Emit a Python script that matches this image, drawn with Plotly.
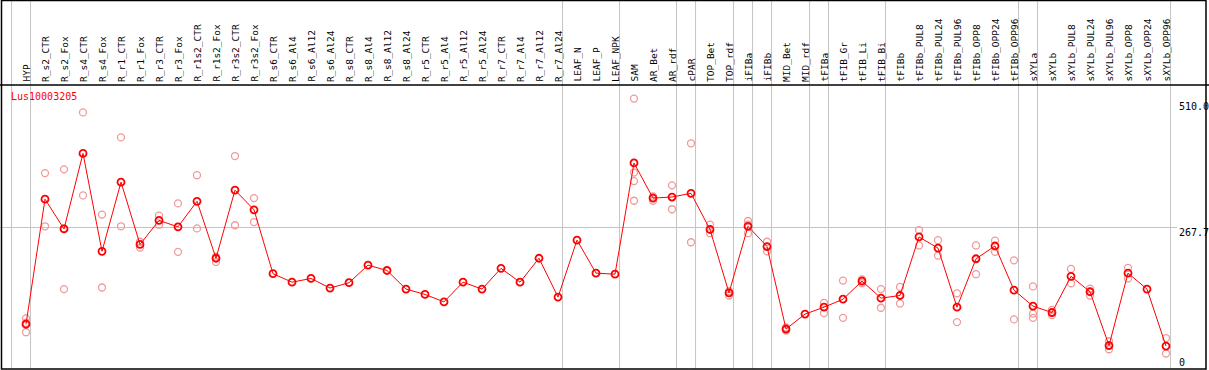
import plotly.graph_objects as go

title = "Lus10003205"
categories = [
    "HYP", "R_s2_CTR", "R_s2_Fox", "R_s4_CTR", "R_s4_Fox", "R_r1_CTR", "R_r1_Fox",
    "R_r3_CTR", "R_r3_Fox", "R_r1s2_CTR", "R_r1s2_Fox", "R_r3s2_CTR", "R_r3s2_Fox",
    "R_s6_CTR", "R_s6_Al4", "R_s6_Al12", "R_s6_Al24", "R_s8_CTR", "R_s8_Al4",
    "R_s8_Al12", "R_s8_Al24", "R_r5_CTR", "R_r5_Al4", "R_r5_Al12", "R_r5_Al24",
    "R_r7_CTR", "R_r7_Al4", "R_r7_Al12", "R_r7_Al24", "LEAF_N", "LEAF_P", "LEAF_NPK",
    "SAM", "AR_Bet", "AR_rdf", "cPAR", "TOP_Bet", "TOP_rdf", "iFIBa", "iFIBb",
    "MID_Bet", "MID_rdf", "tFIBa", "tFIB_Gr", "tFIB_Li", "tFIB_Bi", "tFIBb",
    "tFIBb_PUL8", "tFIBb_PUL24", "tFIBb_PUL96", "tFIBb_OPP8", "tFIBb_OPP24",
    "tFIBb_OPP96", "sXYLa", "sXYLb", "sXYLb_PUL8", "sXYLb_PUL24", "sXYLb_PUL96",
    "sXYLb_OPP8", "sXYLb_OPP24", "sXYLb_OPP96",
]
means = [
    86, 321, 265, 407, 223, 353, 236, 281, 269, 317, 210, 338, 301,
    181, 165, 172, 154, 164, 197, 187, 152, 142, 128, 165, 152, 191, 165, 210, 137,
    244, 182, 180,
    389, 323, 325, 332, 264, 145, 270, 232, 77, 105, 118, 133, 167, 135, 140,
    250, 229, 118, 209, 233, 150, 120, 108, 176, 147, 46, 182, 152, 45,
]
replicates = [
    [97, 89, 71], [370, 270], [377, 266, 152], [484, 328], [292, 155], [437, 270],
    [241, 230], [290, 273], [313, 222], [366, 266], [213, 203], [402, 272], [323, 278],
    [], [], [], [], [], [], [], [], [], [], [], [], [], [], [], [], [], [], [],
    [510, 371, 355, 318], [326, 318], [347, 302], [426, 240], [273, 257], [148, 140],
    [280, 273, 257], [241, 223], [80, 74], [], [126, 107], [168, 98], [170, 163],
    [152, 117], [156, 125], [263, 234], [244, 215], [144, 90], [234, 180], [243, 222],
    [206, 95], [157, 106, 98], [113, 103], [190, 163], [153, 140], [54, 39],
    [192, 172], [], [60, 31],
]
# indices of the last category of each group (group separators drawn after them)
group_ends = [-1, 0, 28, 31, 34, 35, 37, 38, 39, 41, 42, 45, 52, 53, 60]
y_max = 510.0
y_tick_vals = [510.0, 267.7, 0]
y_tick_text = ["510.0", "267.7", "0"]

assert len(categories) == len(means) == len(replicates)

W, H = 1209, 370
x0_px, dx_px = 26, 19
plot_top_px = 85
y_top = y_max * 1.05
y_full = y_top * H / (H - plot_top_px)
x_lo = -x0_px / dx_px
x_hi = (W - x0_px) / dx_px

idx = list(range(len(categories)))
rx, ry = [], []
for i, reps in enumerate(replicates):
    for v in reps:
        rx.append(i)
        ry.append(v)

fig = go.Figure()
fig.add_trace(go.Scatter(
    x=rx, y=ry, mode="markers",
    marker=dict(symbol="circle-open", size=7, color="#f09a9a", line=dict(width=1.3)),
    hoverinfo="skip", showlegend=False,
))
fig.add_trace(go.Scatter(
    x=idx, y=means, mode="lines+markers",
    line=dict(color="#ff0000", width=1),
    marker=dict(symbol="circle-open", size=7, color="#ff0000", line=dict(width=1.8)),
    showlegend=False,
))

shapes = []
gray = "#c4c4c4"
for g in group_ends:
    shapes.append(dict(type="line", xref="x", yref="paper", x0=g + 0.24, x1=g + 0.24,
                       y0=1 / H, y1=1, line=dict(color=gray, width=1), layer="below"))
shapes.append(dict(type="line", xref="x", yref="y", x0=x_lo, x1=(1177 - x0_px) / dx_px,
                   y0=y_top / 2, y1=y_top / 2, line=dict(color=gray, width=1), layer="below"))
shapes.append(dict(type="line", xref="paper", yref="y", x0=0, x1=1,
                   y0=y_top, y1=y_top, line=dict(color="black", width=1.5)))
shapes.append(dict(type="rect", xref="paper", yref="paper",
                   x0=1.5 / W, x1=1206 / W, y0=1 / H, y1=1 - 0.5 / H,
                   line=dict(color="black", width=1.5)))

mono = "DejaVu Sans Mono"
annotations = []
for i, c in enumerate(categories):
    annotations.append(dict(x=i, y=1 - 84 / H, xref="x", yref="paper", text=c,
                            textangle=-90, showarrow=False, xanchor="center",
                            yanchor="bottom", font=dict(family=mono, size=9.5, color="black")))
annotations.append(dict(x=9 / W, y=1 - 96.5 / H, xref="paper", yref="paper", text=title,
                        showarrow=False, xanchor="left", yanchor="middle",
                        font=dict(family=mono, size=10, color="#ff0000")))
label_centers_px = [106.5, 232.5, 362]
for v, t, py in zip(y_tick_vals, y_tick_text, label_centers_px):
    annotations.append(dict(x=1177 / W, y=1 - py / H, xref="paper", yref="paper", text=t,
                            showarrow=False, xanchor="left", yanchor="middle",
                            font=dict(family=mono, size=10, color="black")))

fig.update_layout(
    width=W, height=H,
    margin=dict(l=0, r=0, t=0, b=0),
    paper_bgcolor="white", plot_bgcolor="white",
    xaxis=dict(range=[x_lo, x_hi], visible=False, fixedrange=True),
    yaxis=dict(range=[0, y_full], visible=False, fixedrange=True),
    shapes=shapes, annotations=annotations,
    showlegend=False,
)
fig.write_html(
    "out.html",
    config={"displayModeBar": False},
    post_script="document.body.style.margin='0';document.body.style.padding='0';"
                "document.body.style.overflow='hidden';",
)
